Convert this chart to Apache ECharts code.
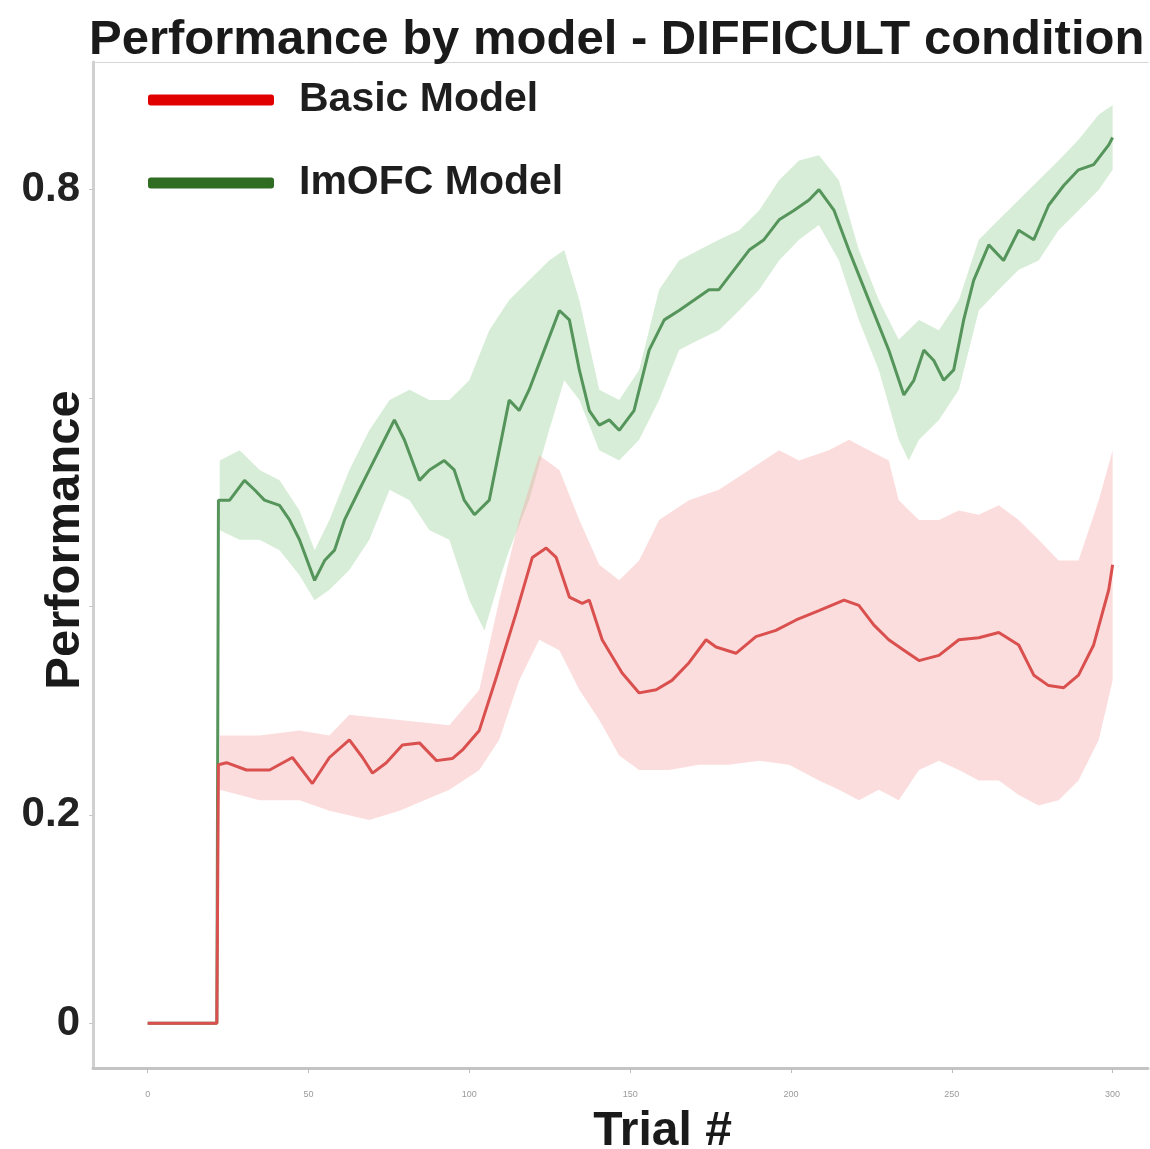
<!DOCTYPE html>
<html>
<head>
<meta charset="utf-8">
<script src="https://cdn.jsdelivr.net/npm/echarts@6/dist/echarts.min.js"></script>
<style>
html,body{margin:0;padding:0;background:#fff;}
#chart{width:1150px;height:1149px;}
</style>
</head>
<body>
<div id="chart"></div>
<script>
// ---------- data ----------
const chartTitle = 'Performance by model - DIFFICULT condition';
const seriesNames = ['Basic Model', 'ImOFC Model'];
const xTicks = [0, 50, 100, 150, 200, 250, 300];
const yTicks = [0, 0.2, 0.4, 0.6, 0.8];
const yTickLabels = ['0', '0.2', '', '', '0.8'];

// Basic model mean
const basicX = [0, 21.5, 22, 24.5, 30.7, 37.9, 45, 51.2, 56.5, 62.7, 66.8, 69.9, 74.2, 79.2, 84.5, 89.8, 94.7, 97.8, 103.1, 108.4, 114.6, 119.6, 123.9, 127, 131.1, 135.1, 137.3, 141.3, 147.5, 152.8, 158.1, 163, 168.3, 173.6, 176.7, 182.9, 189.1, 195.3, 201.6, 208.7, 216.5, 221.1, 225.8, 230.4, 235.1, 239.8, 246, 252.2, 258.4, 264.6, 270.8, 275.5, 280.1, 284.8, 289.4, 294.1, 298.8, 300];
const basicMean = [0, 0, 0.248, 0.250, 0.243, 0.243, 0.255, 0.230, 0.255, 0.272, 0.255, 0.240, 0.250, 0.267, 0.269, 0.252, 0.254, 0.262, 0.281, 0.332, 0.394, 0.447, 0.456, 0.447, 0.409, 0.403, 0.406, 0.368, 0.336, 0.317, 0.320, 0.329, 0.346, 0.368, 0.361, 0.355, 0.371, 0.377, 0.387, 0.396, 0.406, 0.401, 0.382, 0.368, 0.358, 0.348, 0.353, 0.368, 0.370, 0.375, 0.363, 0.334, 0.324, 0.322, 0.334, 0.363, 0.416, 0.440];
// Basic model band
const basicUpperX = [22.4, 34.8, 47.2, 56.5, 62.7, 78.3, 93.8, 103.1, 109.3, 115.5, 121.7, 128, 134.2, 140.4, 146.6, 152.8, 159, 168.3, 177.6, 187, 196.3, 202.5, 211.8, 218, 224.2, 230.4, 233.5, 239.8, 246, 252.2, 258.4, 264.6, 270.8, 277, 283.2, 289.4, 295.7, 300];
const basicUpper = [0.276, 0.276, 0.281, 0.276, 0.296, 0.291, 0.286, 0.320, 0.406, 0.483, 0.545, 0.531, 0.483, 0.440, 0.425, 0.444, 0.483, 0.502, 0.512, 0.531, 0.550, 0.540, 0.550, 0.560, 0.550, 0.540, 0.502, 0.483, 0.483, 0.492, 0.488, 0.497, 0.483, 0.464, 0.444, 0.444, 0.502, 0.550];
const basicLowerX = [22.4, 34.8, 47.2, 56.5, 68.9, 78.3, 93.8, 103.1, 109.3, 115.5, 121.7, 128, 134.2, 140.4, 146.6, 152.8, 162.1, 171.4, 180.7, 190.1, 199.4, 208.7, 214.9, 221.1, 227.3, 233.5, 239.8, 246, 252.2, 258.4, 264.6, 270.8, 277, 283.2, 289.4, 295.7, 300];
const basicLower = [0.224, 0.214, 0.214, 0.204, 0.195, 0.204, 0.224, 0.243, 0.272, 0.329, 0.368, 0.358, 0.320, 0.291, 0.257, 0.243, 0.243, 0.248, 0.248, 0.252, 0.248, 0.233, 0.224, 0.214, 0.224, 0.214, 0.243, 0.252, 0.243, 0.233, 0.233, 0.219, 0.209, 0.214, 0.233, 0.272, 0.329];

// ImOFC model mean
const imofcX = [0, 21.5, 22, 25.5, 30.1, 33.2, 36.3, 41, 44.1, 47.2, 51.9, 55, 58.1, 61.2, 65.8, 68.9, 73.6, 76.7, 79.8, 84.5, 87.6, 92.2, 95.3, 98.4, 101.6, 106.2, 109.3, 112.4, 115.5, 118.6, 123.3, 128, 131.1, 134.2, 137.3, 140.4, 143.5, 146.6, 151.2, 155.9, 160.6, 165.2, 169.9, 174.5, 177.6, 182.3, 187, 191.6, 196.3, 200.9, 205.6, 208.7, 213.4, 218, 224.2, 230.4, 235.1, 238.2, 241.3, 244.4, 247.5, 250.6, 253.7, 256.8, 261.5, 266.1, 270.8, 275.5, 280.1, 284.8, 289.4, 294.1, 298.8, 300];
const imofcMean = [0, 0, 0.502, 0.502, 0.521, 0.512, 0.502, 0.497, 0.483, 0.464, 0.425, 0.444, 0.454, 0.483, 0.512, 0.531, 0.560, 0.579, 0.560, 0.521, 0.531, 0.540, 0.531, 0.502, 0.488, 0.502, 0.550, 0.598, 0.588, 0.608, 0.646, 0.684, 0.675, 0.627, 0.588, 0.574, 0.579, 0.569, 0.588, 0.646, 0.675, 0.684, 0.694, 0.704, 0.704, 0.723, 0.742, 0.752, 0.771, 0.780, 0.790, 0.800, 0.780, 0.742, 0.694, 0.646, 0.603, 0.617, 0.646, 0.636, 0.617, 0.627, 0.675, 0.713, 0.747, 0.732, 0.761, 0.752, 0.785, 0.804, 0.819, 0.824, 0.843, 0.850];
// ImOFC model band
const imofcUpperX = [22.4, 28.6, 34.8, 41, 47.2, 51.9, 56.5, 62.7, 68.9, 75.2, 81.4, 87.6, 93.8, 100, 106.2, 112.4, 118.6, 124.8, 129.5, 134.2, 140.4, 146.6, 152.8, 159, 165.2, 171.4, 177.6, 183.9, 190.1, 196.3, 202.5, 208.7, 214.9, 221.1, 227.3, 233.5, 239.8, 246, 252.2, 258.4, 264.6, 270.8, 277, 283.2, 289.4, 295.7, 300];
const imofcUpper = [0.540, 0.550, 0.531, 0.521, 0.492, 0.454, 0.483, 0.531, 0.569, 0.598, 0.608, 0.598, 0.598, 0.617, 0.665, 0.694, 0.713, 0.732, 0.742, 0.694, 0.608, 0.598, 0.627, 0.704, 0.732, 0.742, 0.752, 0.761, 0.780, 0.809, 0.828, 0.833, 0.809, 0.742, 0.694, 0.656, 0.675, 0.665, 0.694, 0.752, 0.771, 0.790, 0.809, 0.828, 0.848, 0.872, 0.881];
const imofcLowerX = [22.4, 28.6, 34.8, 41, 47.2, 51.9, 56.5, 62.7, 68.9, 75.2, 81.4, 87.6, 93.8, 100, 104.7, 109.3, 112.4, 118.6, 124.8, 129.5, 134.2, 140.4, 146.6, 152.8, 159, 165.2, 171.4, 177.6, 183.9, 190.1, 196.3, 202.5, 208.7, 214.9, 221.1, 227.3, 233.5, 236.6, 239.8, 246, 252.2, 258.4, 264.6, 270.8, 277, 283.2, 289.4, 295.7, 300];
const imofcLower = [0.473, 0.464, 0.464, 0.454, 0.430, 0.406, 0.416, 0.435, 0.464, 0.512, 0.502, 0.473, 0.464, 0.406, 0.377, 0.425, 0.454, 0.502, 0.569, 0.617, 0.598, 0.550, 0.540, 0.560, 0.598, 0.646, 0.656, 0.665, 0.684, 0.704, 0.732, 0.752, 0.766, 0.732, 0.675, 0.627, 0.560, 0.540, 0.560, 0.579, 0.608, 0.684, 0.704, 0.723, 0.732, 0.761, 0.780, 0.800, 0.819];

// ---------- chart ----------
const pairs = (xs, ys) => xs.map((x, i) => [x, ys[i]]);

function band(name, ux, uy, lx, ly, fill) {
  return {
    name: name,
    type: 'custom',
    silent: true,
    z: 1,
    data: [[ux[0], uy[0]]],
    renderItem: function (params, api) {
      const pts = [];
      for (let i = 0; i < ux.length; i++) pts.push(api.coord([ux[i], uy[i]]));
      for (let i = lx.length - 1; i >= 0; i--) pts.push(api.coord([lx[i], ly[i]]));
      return { type: 'polygon', shape: { points: pts }, style: { fill: fill } };
    }
  };
}

const chart = echarts.init(document.getElementById('chart'), null, { renderer: 'canvas' });
const font = 'Liberation Sans, Arial, sans-serif';
chart.setOption({
  animation: false,
  backgroundColor: '#ffffff',
  textStyle: { fontFamily: font },
  title: {
    text: chartTitle,
    left: 84,
    top: 11,
    textStyle: { fontSize: 49, fontWeight: 'bold', color: '#1a1a1a', fontFamily: font }
  },
  legend: {
    orient: 'vertical',
    left: 143,
    top: 71,
    icon: 'roundRect',
    itemWidth: 126,
    itemHeight: 11,
    itemGap: 35,
    data: [
      { name: seriesNames[0], itemStyle: { color: '#e00000' } },
      { name: seriesNames[1], itemStyle: { color: '#2f6d22' } }
    ],
    textStyle: { fontSize: 41, fontWeight: 'bold', color: '#1e1e1e', padding: [0, 0, 0, 20], lineHeight: 48, fontFamily: font }
  },
  grid: { left: 93, right: 2, top: 62, bottom: 81, containLabel: false, outerBoundsMode: 'none' },
  xAxis: [{
    type: 'value',
    min: -17,
    max: 311,
    name: 'Trial #',
    nameLocation: 'middle',
    nameGap: 40,
    nameMoveOverlap: false,
    nameTextStyle: { fontSize: 48, fontWeight: 'bold', color: '#1a1a1a', padding: [0, 0, 0, 84], fontFamily: font },
    splitLine: { show: false },
    axisLine: { show: true, onZero: false, lineStyle: { color: '#c4c4c4', width: 3 } },
    axisTick: { show: true, customValues: xTicks, length: 5, lineStyle: { color: '#bdbdbd', width: 1 } },
    axisLabel: { customValues: xTicks, fontSize: 9, color: '#9a9a9a', margin: 22 }
  }, {
    type: 'value',
    position: 'top',
    min: -17,
    max: 311,
    axisLine: { show: true, onZero: false, lineStyle: { color: '#d6d6d6', width: 1 } },
    axisTick: { show: false },
    axisLabel: { show: false },
    splitLine: { show: false }
  }],
  yAxis: {
    type: 'value',
    min: -0.043,
    max: 0.9225,
    name: 'Performance',
    nameLocation: 'middle',
    nameGap: 3,
    nameRotate: 90,
    nameMoveOverlap: false,
    nameTextStyle: { fontSize: 49, fontWeight: 'bold', color: '#1a1a1a', padding: [0, 0, 0, 50], fontFamily: font },
    splitLine: { show: false },
    axisLine: { show: true, onZero: false, lineStyle: { color: '#d0d0d0', width: 3 } },
    axisTick: { show: true, customValues: yTicks, length: 4, lineStyle: { color: '#c8c8c8' } },
    axisLabel: {
      customValues: yTicks,
      fontSize: 42, fontWeight: 'bold', color: '#222', margin: 13,
      formatter: function (v) {
        const i = yTicks.findIndex(t => Math.abs(t - v) < 1e-6);
        return i >= 0 ? yTickLabels[i] : '';
      }
    }
  },
  series: [
    band('ImOFC band', imofcUpperX, imofcUpper, imofcLowerX, imofcLower, 'rgba(150,208,150,0.38)'),
    band('Basic band', basicUpperX, basicUpper, basicLowerX, basicLower, 'rgba(248,165,165,0.38)'),
    {
      name: seriesNames[1], type: 'line', z: 3, showSymbol: false, symbol: 'none',
      data: pairs(imofcX, imofcMean),
      lineStyle: { color: '#55945a', width: 3 }, itemStyle: { color: '#55945a' }
    },
    {
      name: seriesNames[0], type: 'line', z: 4, showSymbol: false, symbol: 'none',
      data: pairs(basicX, basicMean),
      lineStyle: { color: '#d9504f', width: 3 }, itemStyle: { color: '#d9504f' }
    }
  ]
});
</script>
</body>
</html>
